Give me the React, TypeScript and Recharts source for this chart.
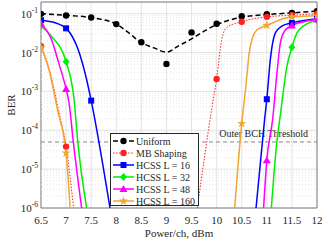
import React from "react";
import {
  ComposedChart,
  Line,
  Scatter,
  XAxis,
  YAxis,
  CartesianGrid,
  ReferenceLine,
  ReferenceArea,
} from "recharts";

const xTicks = [6.5, 7, 7.5, 8, 8.5, 9, 9.5, 10, 10.5, 11, 11.5, 12];
const yTicks = [1e-6, 1e-5, 1e-4, 1e-3, 1e-2, 1e-1];
const yExp = ["-6", "-5", "-4", "-3", "-2", "-1"];
const minorSteps = [2, 3, 4, 5, 6, 7, 8, 9];
const threshold = 5e-5;

// Uniform: raw points + dashed fit
const uniformMarkX = [6.5, 7, 7.5, 8, 8.5, 9, 9.5, 10, 10.5, 11, 11.5, 12];
const uniformMarkY = [0.099, 0.09, 0.08, 0.054, 0.0184, 0.0051, 0.033, 0.055, 0.086, 0.097, 0.105, 0.116];
const uniformLineX = [6.5, 7, 7.5, 8, 8.25, 8.5, 8.75, 9, 9.25, 9.5, 9.75, 10, 10.5, 11, 11.5, 12];
const uniformLineY = [0.1, 0.091, 0.079, 0.054, 0.032, 0.018, 0.0132, 0.0102, 0.0151, 0.0224, 0.0355, 0.052, 0.081, 0.095, 0.105, 0.117];

// MB Shaping
const mbMarkX = [6.5, 7, 10, 10.5, 11, 11.5, 12];
const mbMarkY = [0.0145, 3.8e-5, 2.1e-3, 0.062, 0.083, 0.091, 0.1];
const mbLineX = [6.5, 6.65, 6.85, 7, 7.15, 8.5, 9.615, 9.91, 10, 10.1, 10.2, 10.5, 11, 11.5, 12];
const mbLineY = [0.0145, 0.0044, 3.3e-4, 3.8e-5, 1e-6, null, 1e-6, 4.1e-4, 2.1e-3, 0.021, 0.044, 0.062, 0.083, 0.091, 0.1];

// HCSS L = 16
const l16MarkX = [6.5, 7, 7.5, 11, 11.5, 12];
const l16MarkY = [0.068, 0.042, 5.8e-4, 6.3e-4, 0.058, 0.074];
const l16LineX = [6.5, 6.75, 7, 7.24, 7.41, 7.5, 7.875, 9, 10.785, 10.955, 11, 11.07, 11.17, 11.3, 11.5, 12];
const l16LineY = [0.068, 0.06, 0.042, 0.012, 0.002, 5.8e-4, 1e-6, null, 1e-6, 1.86e-4, 6.3e-4, 6.6e-3, 0.032, 0.048, 0.058, 0.074];

// HCSS L = 32
const l32MarkX = [6.5, 7, 11.5, 12];
const l32MarkY = [0.048, 5.8e-3, 0.0136, 0.068];
const l32LineX = [6.5, 6.71, 7, 7.16, 7.23, 7.41, 9, 11.09, 11.2, 11.27, 11.4, 11.5, 11.6, 11.75, 12];
const l32LineY = [0.048, 0.026, 5.8e-3, 6e-4, 5.6e-5, 1e-6, null, 1e-6, 5e-5, 2.5e-4, 4.4e-3, 0.0136, 0.032, 0.05, 0.068];

// HCSS L = 48
const l48MarkX = [6.5, 7, 11, 11.5, 12];
const l48MarkY = [0.055, 1.15e-3, 1.7e-5, 0.05, 0.071];
const l48LineX = [6.5, 6.71, 6.85, 7, 7.06, 7.14, 7.31, 9, 10.936, 11, 11.115, 11.215, 11.27, 11.35, 11.5, 12];
const l48LineY = [0.055, 0.0214, 5.6e-3, 1.15e-3, 5e-4, 5.6e-5, 1e-6, null, 1e-6, 1.7e-5, 1.86e-4, 4.4e-3, 0.0178, 0.035, 0.05, 0.071];

// HCSS L = 160
const l160MarkX = [6.5, 7, 10.5, 11, 11.5, 12];
const l160MarkY = [0.0136, 2.6e-5, 1.5e-4, 0.05, 0.083, 0.089];
const l160LineX = [6.5, 6.65, 6.83, 7, 7.08, 9, 10.36, 10.5, 10.58, 10.65, 10.72, 10.8, 11, 11.5, 12];
const l160LineY = [0.0136, 0.004, 3.3e-4, 2.6e-5, 1e-6, null, 1e-6, 1.5e-4, 1.26e-3, 0.01, 0.025, 0.038, 0.05, 0.083, 0.089];

const zip = (xs: number[], ys: (number | null)[]) => xs.map((x, i) => ({ x, y: ys[i] }));

type Kind = "circle" | "square" | "diamond" | "triangle" | "star";

const series = [
  { name: "Uniform", color: "#000000", kind: "circle" as Kind, dash: "5 3", width: 1.5, mx: uniformMarkX, my: uniformMarkY, lx: uniformLineX, ly: uniformLineY },
  { name: "MB Shaping", color: "#ff2020", kind: "circle" as Kind, dash: "1.5 1.5", width: 1, mx: mbMarkX, my: mbMarkY, lx: mbLineX, ly: mbLineY },
  { name: "HCSS L = 16", color: "#0000ff", kind: "square" as Kind, dash: undefined, width: 1.5, mx: l16MarkX, my: l16MarkY, lx: l16LineX, ly: l16LineY },
  { name: "HCSS L = 32", color: "#00ee00", kind: "diamond" as Kind, dash: undefined, width: 1.5, mx: l32MarkX, my: l32MarkY, lx: l32LineX, ly: l32LineY },
  { name: "HCSS L = 48", color: "#ff00ff", kind: "triangle" as Kind, dash: undefined, width: 1.5, mx: l48MarkX, my: l48MarkY, lx: l48LineX, ly: l48LineY },
  { name: "HCSS L = 160", color: "#f2a531", kind: "star" as Kind, dash: undefined, width: 1.5, mx: l160MarkX, my: l160MarkY, lx: l160LineX, ly: l160LineY },
];

const minorGrid: number[] = [];
yTicks.forEach((d) => minorSteps.forEach((m) => { if (d * m < 0.2) minorGrid.push(d * m); }));

const FONT = "'Liberation Serif', 'Times New Roman', serif";
const TXT = "#262626";

function Mark({ cx, cy, kind, color }: { cx: number; cy: number; kind: Kind; color: string }) {
  if (cx == null || cy == null) return null;
  if (kind === "square") return <rect x={cx - 3} y={cy - 3} width={6} height={6} fill={color} />;
  if (kind === "diamond")
    return <polygon points={`${cx},${cy - 4} ${cx + 3.5},${cy} ${cx},${cy + 4} ${cx - 3.5},${cy}`} fill={color} />;
  if (kind === "triangle")
    return <polygon points={`${cx},${cy - 4} ${cx + 4},${cy + 3} ${cx - 4},${cy + 3}`} fill={color} />;
  if (kind === "star") {
    const pts: string[] = [];
    for (let i = 0; i < 10; i++) {
      const r = i % 2 === 0 ? 4.8 : 1.9;
      const a = -Math.PI / 2 + (i * Math.PI) / 5;
      pts.push(`${cx + r * Math.cos(a)},${cy + r * Math.sin(a)}`);
    }
    return <polygon points={pts.join(" ")} fill={color} />;
  }
  return <circle cx={cx} cy={cy} r={3.2} fill={color} />;
}

function YTick(props: any) {
  const { x, y, payload, index } = props;
  const i = yTicks.indexOf(payload.value);
  return (
    <text x={x} y={y + 4} textAnchor="end" fontFamily={FONT} fontSize={11} fill={TXT}>
      10<tspan dy={-5} fontSize={7.5}>{yExp[i >= 0 ? i : index]}</tspan>
    </text>
  );
}

function XTick(props: any) {
  const { x, payload } = props;
  return (
    <text x={x} y={224} textAnchor="middle" fontFamily={FONT} fontSize={11} fill={TXT}>
      {payload.value}
    </text>
  );
}

function Legend() {
  return (
    <div
      style={{
        position: "absolute",
        left: 110,
        top: 133,
        width: 89,
        height: 73,
        boxSizing: "border-box",
        border: "0.8px solid #262626",
        background: "#fff",
        fontFamily: FONT,
        fontSize: 10,
        color: TXT,
        paddingTop: 1,
        overflow: "hidden",
      }}
    >
      {series.map((s) => (
        <div key={s.name} style={{ height: 12, display: "flex", alignItems: "center", whiteSpace: "nowrap" }}>
          <svg width={25} height={12} style={{ flex: "none" }}>
            <line x1={2} x2={23} y1={6} y2={6} stroke={s.color} strokeWidth={s.width} strokeDasharray={s.dash} />
            <Mark cx={12.5} cy={6} kind={s.kind} color={s.color} />
          </svg>
          <span>{s.name}</span>
        </div>
      ))}
    </div>
  );
}

export default function App() {
  return (
    <div style={{ position: "absolute", left: 0, top: 0, width: 329, height: 241, background: "#fff" }}>
      <ComposedChart width={329} height={241} margin={{ top: 2, right: 12, left: 0, bottom: 0 }}>
        <CartesianGrid stroke="#e3e3e3" />
        {minorGrid.map((v) => (
          <ReferenceLine key={v} y={v} stroke="#e6e6e6" strokeDasharray="1 2" />
        ))}
        <XAxis
          dataKey="x"
          type="number"
          domain={[6.5, 12]}
          ticks={xTicks}
          interval={0}
          allowDataOverflow
          axisLine={false}
          tickLine={false}
          height={33}
          tick={<XTick />}
          label={{
            content: () => (
              <text x={179} y={237} textAnchor="middle" fontFamily={FONT} fontSize={11} fill={TXT}>
                Power/ch, dBm
              </text>
            ),
          }}
        />
        <YAxis
          dataKey="y"
          type="number"
          scale="log"
          domain={[1e-6, 0.2]}
          ticks={yTicks}
          interval={0}
          allowDataOverflow
          axisLine={false}
          tickLine={false}
          tickSize={3}
          tickMargin={0}
          width={41}
          tick={<YTick />}
          label={{
            content: () => (
              <text x={15} y={105} transform="rotate(-90 15 105)" textAnchor="middle" fontFamily={FONT} fontSize={11} fill={TXT}>
                BER
              </text>
            ),
          }}
        />
        <ReferenceLine
          y={threshold}
          stroke="#8a8a8a"
          strokeDasharray="4 3"
          label={{
            content: (p: any) => (
              <text x={p.viewBox.x + p.viewBox.width - 9} y={p.viewBox.y - 5} textAnchor="end" fontFamily={FONT} fontSize={10} fill={TXT}>
                Outer BCH Threshold
              </text>
            ),
          }}
        />
        {series.map((s) => (
          <Line
            key={"l" + s.name}
            data={zip(s.lx, s.ly)}
            dataKey="y"
            type="monotone"
            stroke={s.color}
            strokeWidth={s.width}
            strokeDasharray={s.dash}
            dot={false}
            activeDot={false}
            connectNulls={false}
            isAnimationActive={false}
          />
        ))}
        {series.map((s) => (
          <Scatter
            key={"m" + s.name}
            data={zip(s.mx, s.my)}
            dataKey="y"
            isAnimationActive={false}
            shape={(p: any) => <Mark cx={p.cx} cy={p.cy} kind={s.kind} color={s.color} />}
          />
        ))}
        <ReferenceArea x1={6.5} x2={12} y1={1e-6} y2={0.2} fill="none" fillOpacity={0} stroke="#666" strokeWidth={0.8} />
      </ComposedChart>
      <Legend />
    </div>
  );
}
